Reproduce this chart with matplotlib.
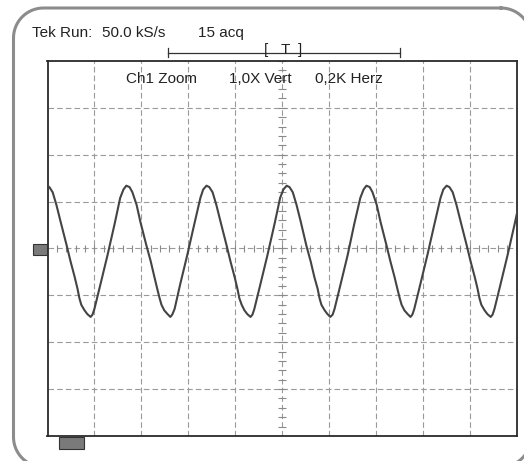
import numpy as np
import matplotlib
matplotlib.use("Agg")
import matplotlib.pyplot as plt
from matplotlib.patches import Rectangle

W, H = 524, 461

# trace, in graticule divisions (x: -5..5, y: -4..4)
time_div = [
    -5.02, -4.96, -4.89, -4.81, -4.72, -4.59, -4.51, -4.42, -4.36, -4.32, -4.28,
    -4.21, -4.15, -4.08, -4.04, -4.00, -3.87, -3.72, -3.57, -3.45, -3.38,
    -3.32, -3.25, -3.19, -3.10, -3.02, -2.89, -2.80, -2.72, -2.66, -2.61, -2.57,
    -2.51, -2.44, -2.38, -2.34, -2.29, -2.17, -2.02, -1.87, -1.74, -1.68,
    -1.61, -1.55, -1.48, -1.40, -1.31, -1.18, -1.10, -1.01, -0.95, -0.91, -0.86,
    -0.80, -0.74, -0.67, -0.63, -0.59, -0.46, -0.31, -0.16, -0.04, 0.03,
    0.10, 0.16, 0.23, 0.31, 0.40, 0.52, 0.61, 0.69, 0.76, 0.80, 0.84,
    0.91, 0.97, 1.03, 1.08, 1.12, 1.25, 1.40, 1.54, 1.67, 1.74,
    1.80, 1.87, 1.93, 2.02, 2.10, 2.23, 2.31, 2.40, 2.46, 2.51, 2.55,
    2.61, 2.68, 2.74, 2.78, 2.82, 2.95, 3.10, 3.25, 3.38, 3.44,
    3.51, 3.57, 3.64, 3.72, 3.81, 3.94, 4.02, 4.11, 4.17, 4.21, 4.25,
    4.32, 4.38, 4.45, 4.49, 4.53, 4.66, 4.81, 4.96, 5.08, 5.15,
]
trace_div = [
    1.34, 1.31, 1.20, 0.93, 0.57, 0.06, -0.27, -0.61, -0.86, -1.06, -1.20,
    -1.32, -1.40, -1.46, -1.41, -1.29, -0.76, -0.14, 0.52, 1.08, 1.26,
    1.34, 1.31, 1.20, 0.93, 0.57, 0.06, -0.27, -0.61, -0.86, -1.06, -1.20,
    -1.32, -1.40, -1.46, -1.41, -1.29, -0.76, -0.14, 0.52, 1.08, 1.26,
    1.34, 1.31, 1.20, 0.93, 0.57, 0.06, -0.27, -0.61, -0.86, -1.06, -1.20,
    -1.32, -1.40, -1.46, -1.41, -1.29, -0.76, -0.14, 0.52, 1.08, 1.26,
    1.34, 1.31, 1.20, 0.93, 0.57, 0.06, -0.27, -0.61, -0.86, -1.06, -1.20,
    -1.32, -1.40, -1.46, -1.41, -1.29, -0.76, -0.14, 0.52, 1.08, 1.26,
    1.34, 1.31, 1.20, 0.93, 0.57, 0.06, -0.27, -0.61, -0.86, -1.06, -1.20,
    -1.32, -1.40, -1.46, -1.41, -1.29, -0.76, -0.14, 0.52, 1.08, 1.26,
    1.34, 1.31, 1.20, 0.93, 0.57, 0.06, -0.27, -0.61, -0.86, -1.06, -1.20,
    -1.32, -1.40, -1.46, -1.41, -1.29, -0.76, -0.14, 0.52, 1.08, 1.26,
]

header = ["Tek Run:", "50.0 kS/s", "15 acq"]
zoom_labels = ["Ch1 Zoom", "1,0X Vert", "0,2K Herz"]

plt.rcParams["font.family"] = ["Liberation Sans", "DejaVu Sans"]

fig = plt.figure(figsize=(W / 100, H / 100), dpi=100)

# graticule
L, T, R, B = 47.5, 61, 516.5, 436
ax = fig.add_axes([L / W, 1 - B / H, (R - L) / W, (B - T) / H])
ax.set_xlim(-5, 5)
ax.set_ylim(-4, 4)
ax.set_xticks([])
ax.set_yticks([])
for s in ax.spines.values():
    s.set_color("#2a2a2a")
    s.set_linewidth(1.3)

grid_kw = dict(color="#9a9a9a", lw=0.8, ls=(0, (5, 2.8)), zorder=1)
for gx in range(-4, 5):
    ax.axvline(gx, **grid_kw)
for gy in range(-3, 4):
    ax.axhline(gy, **grid_kw)

minor = np.arange(-5, 5.01, 0.2)
ax.vlines(minor, -0.075, 0.075, color="#8a8a8a", lw=0.8, zorder=1)
minor_y = np.arange(-4, 4.01, 0.2)
ax.hlines(minor_y, -0.075, 0.075, color="#8a8a8a", lw=0.8, zorder=1)

ax.plot(time_div, trace_div, color="#444444", lw=1.5, solid_joinstyle="round", zorder=3)

# overlay in pixel coordinates, y counted from the top
ov = fig.add_axes([0, 0, 1, 1], zorder=2)
ov.set_xlim(0, W)
ov.set_ylim(H, 0)
ov.axis("off")
ov.patch.set_alpha(0)

# rounded outer frame (runs off the right and bottom edges)
fl, ft, fr, fb, rad = 13.5, 8.0, 531.0, 467.0, 30.0
corners = [(fr - rad, ft + rad, -90, 0), (fr - rad, fb - rad, 0, 90),
           (fl + rad, fb - rad, 90, 180), (fl + rad, ft + rad, 180, 270)]
fx, fyy = [], []
for cx, cy, a0, a1 in corners:
    ang = np.radians(np.linspace(a0, a1, 20))
    fx.extend(cx + rad * np.cos(ang))
    fyy.extend(cy + rad * np.sin(ang))
fx.append(fx[0])
fyy.append(fyy[0])
ov.plot(fx, fyy, color="#8c8c8c", lw=2.2, solid_joinstyle="round")

ov.add_patch(Rectangle((33, 244), 14, 11, fc="#7a7a7a", ec="#333333", lw=0.8))
ov.add_patch(Rectangle((59, 437), 25, 12, fc="#7a7a7a", ec="#333333", lw=0.8))

lc = "#333333"
ov.plot([168.3, 400], [53, 53], color=lc, lw=0.9)
ov.plot([168.3, 168.3], [48.5, 57.5], color=lc, lw=0.9)
ov.plot([400, 400], [48.5, 57.5], color=lc, lw=0.9)

fs = 11
tc = "#222222"
ov.text(264.3, 54, "[", ha="left", va="baseline", fontsize=fs, color=tc)
ov.text(285, 54, "T", ha="center", va="baseline", fontsize=fs, color=tc)
ov.text(301.7, 54, "]", ha="right", va="baseline", fontsize=fs, color=tc)
for x, s in zip([31.7, 101.7, 197.7], header):
    ov.text(x, 37.3, s, ha="left", va="baseline", fontsize=fs, color=tc)
for x, s in zip([126, 229, 315], zoom_labels):
    ov.text(x, 82.7, s, ha="left", va="baseline", fontsize=fs, color=tc)

fig.savefig("out.png", dpi=100)
